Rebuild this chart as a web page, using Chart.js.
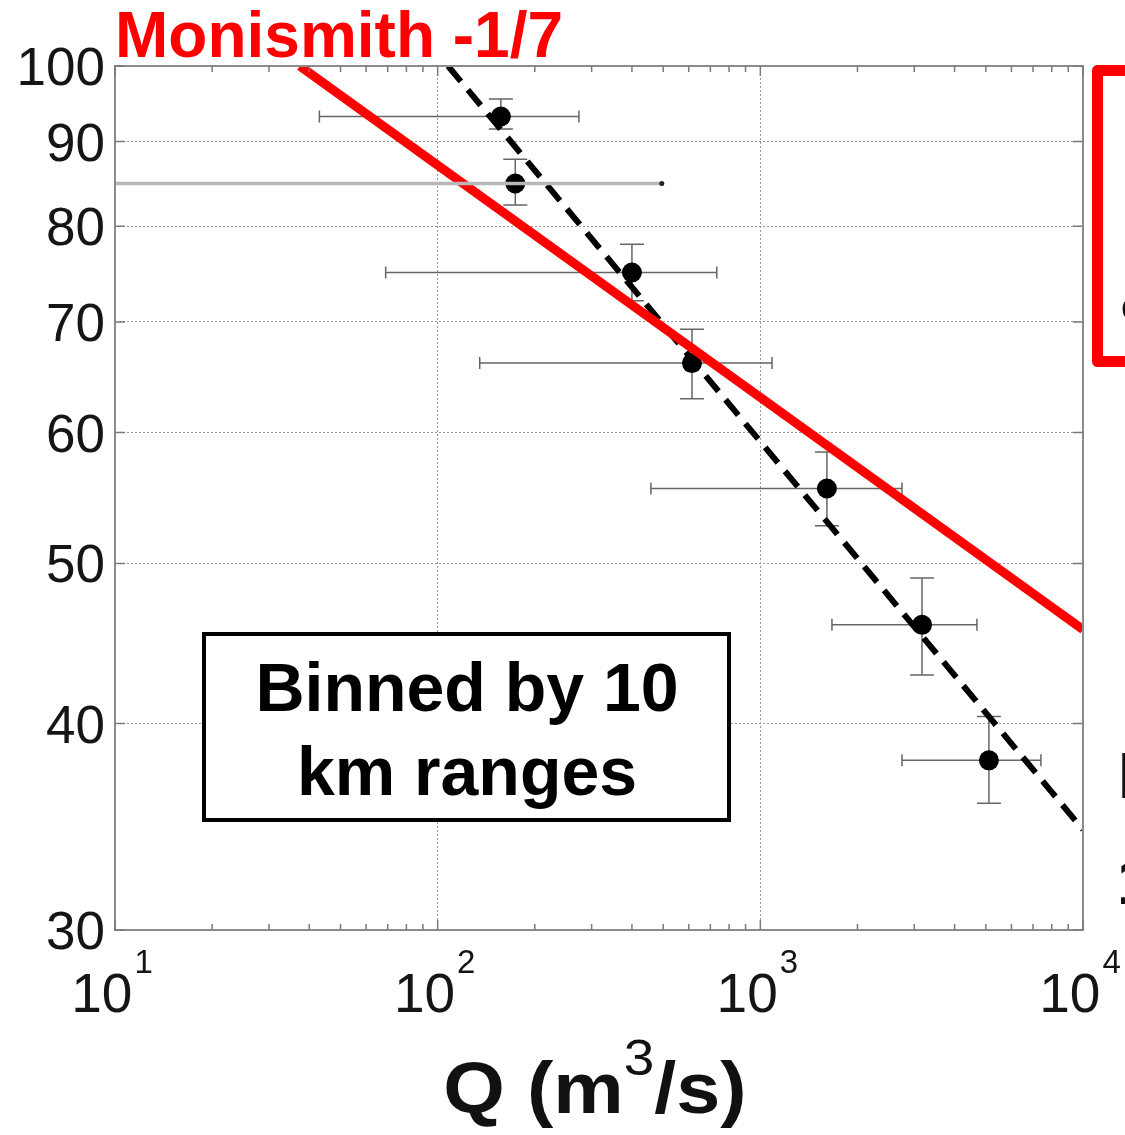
<!DOCTYPE html>
<html><head><meta charset="utf-8">
<script src="https://cdn.jsdelivr.net/npm/chart.js@4.4.1/dist/chart.umd.min.js"></script>
<style>html,body{margin:0;padding:0;background:#fff;overflow:hidden}canvas{display:block}</style>
</head><body>
<canvas id="c" width="1125" height="1135"></canvas>
<script>
// ---- data ----
const binQ  = [157, 174, 400, 614, 1608, 3170, 5110];
const binH  = [93.2, 84.9, 75.0, 66.1, 55.5, 45.9, 38.0];
const binQLow  = [43, 3, 69, 135, 458, 1667, 2748];
const binQHigh = [274, 495, 733, 1087, 2748, 4690, 7405];
const binHLow  = [91.6, 82.4, 72.1, 62.9, 52.7, 42.8, 35.8];
const binHHigh = [95.5, 87.8, 78.0, 69.3, 58.4, 49.0, 40.4];
const monismithQ = [37.4, 10000];
const monismithH = [100, 45.6];
const fitQ = [107.7, 10000];
const fitH = [100, 34.5];
const xTicks = [10, 100, 1000, 10000];
const xTickExp = ['1', '2', '3', '4'];
const yTicks = [30, 40, 50, 60, 70, 80, 90, 100];
const yTickLabels = ['30', '40', '50', '60', '70', '80', '90', '100'];
const titleText = 'Monismith -1/7';
const boxLines = ['Binned by 10', 'km ranges'];
const xTitleParts = ['Q (m', '3', '/s)'];
const fragTexts = ['c', 'E', '1'];

const FONT = '"Liberation Sans", Arial, Helvetica, sans-serif';

const deco = {
  id: 'deco',
  beforeDatasetsDraw(chart) {
    const {ctx, chartArea: a, scales: {x, y}} = chart;
    ctx.save();
    ctx.beginPath(); ctx.rect(a.left, a.top, a.right - a.left, a.bottom - a.top); ctx.clip();
    ctx.strokeStyle = '#666'; ctx.lineWidth = 1.5;
    for (let i = 0; i < binQ.length; i++) {
      const px = x.getPixelForValue(binQ[i]), py = y.getPixelForValue(binH[i]);
      if (binQLow[i] >= x.min) {
        const x1 = x.getPixelForValue(binQLow[i]), x2 = x.getPixelForValue(binQHigh[i]);
        ctx.beginPath();
        ctx.moveTo(x1, py); ctx.lineTo(x2, py);
        ctx.moveTo(x1, py - 6); ctx.lineTo(x1, py + 6);
        ctx.moveTo(x2, py - 6); ctx.lineTo(x2, py + 6);
        ctx.stroke();
      }
      const y1 = y.getPixelForValue(binHLow[i]), y2 = y.getPixelForValue(binHHigh[i]);
      ctx.beginPath();
      ctx.moveTo(px, y1); ctx.lineTo(px, y2);
      ctx.moveTo(px - 12, y1); ctx.lineTo(px + 12, y1);
      ctx.moveTo(px - 12, y2); ctx.lineTo(px + 12, y2);
      ctx.stroke();
    }
    ctx.restore();
  },
  afterDatasetsDraw(chart) {
    const {ctx, chartArea: a, scales: {x, y}} = chart;
    ctx.save();
    ctx.beginPath(); ctx.rect(a.left, a.top, a.right - a.left, a.bottom - a.top); ctx.clip();
    // clipped (off-scale) horizontal error bar drawn on top, lighter and thicker
    for (let i = 0; i < binQ.length; i++) {
      if (binQLow[i] < x.min) {
        const py = y.getPixelForValue(binH[i]);
        const x1 = x.getPixelForValue(binQLow[i]), x2 = x.getPixelForValue(binQHigh[i]);
        ctx.strokeStyle = '#b8b8b8'; ctx.lineWidth = 3.5;
        ctx.beginPath(); ctx.moveTo(x1, py); ctx.lineTo(x2, py); ctx.stroke();
        ctx.fillStyle = '#222';
        ctx.beginPath(); ctx.arc(x2, py, 2.5, 0, Math.PI * 2); ctx.fill();
      }
    }
    ctx.restore();
    // frame
    ctx.save();
    ctx.strokeStyle = '#8c8c8c'; ctx.lineWidth = 2;
    ctx.strokeRect(a.left, a.top, a.right - a.left, a.bottom - a.top);
    // tick marks
    ctx.strokeStyle = '#7a7a7a'; ctx.lineWidth = 1.5;
    ctx.beginPath();
    for (let d = 0; d < xTicks.length - 1; d++) {
      for (let k = 2; k <= 9; k++) {
        const px = x.getPixelForValue(xTicks[d] * k);
        ctx.moveTo(px, a.top); ctx.lineTo(px, a.top + 6);
        ctx.moveTo(px, a.bottom); ctx.lineTo(px, a.bottom - 6);
      }
    }
    xTicks.forEach(v => {
      const px = x.getPixelForValue(v);
      ctx.moveTo(px, a.top); ctx.lineTo(px, a.top + 10);
      ctx.moveTo(px, a.bottom); ctx.lineTo(px, a.bottom - 10);
    });
    yTicks.forEach(v => {
      const py = y.getPixelForValue(v);
      ctx.moveTo(a.left, py); ctx.lineTo(a.left + 10, py);
      ctx.moveTo(a.right, py); ctx.lineTo(a.right - 10, py);
    });
    ctx.stroke();
    ctx.restore();
  },
  afterDraw(chart) {
    const {ctx, scales: {x, y}} = chart;
    ctx.save();
    ctx.fillStyle = '#151515';
    // y tick labels
    ctx.font = '53px ' + FONT; ctx.textAlign = 'right'; ctx.textBaseline = 'alphabetic';
    yTicks.forEach((v, i) => {
      const py = y.getPixelForValue(v);
      ctx.fillText(yTickLabels[i], 105, py + 19);
    });
    // x tick labels 10^n
    ctx.textAlign = 'left';
    xTicks.forEach((v, i) => {
      const px = x.getPixelForValue(v);
      ctx.font = '55px ' + FONT; const wb = ctx.measureText('10').width;
      ctx.font = '33px ' + FONT; const we = ctx.measureText(xTickExp[i]).width;
      const sx = px - (wb + we + 2) / 2 - 3;
      ctx.font = '55px ' + FONT; ctx.fillText('10', sx, 1012);
      ctx.font = '33px ' + FONT; ctx.fillText(xTickExp[i], sx + wb + 2, 973);
    });
    // x axis title
    ctx.save();
    ctx.translate(595, 1113);
    ctx.scale(1.1, 1);
    ctx.font = 'bold 72px ' + FONT; const w1 = ctx.measureText(xTitleParts[0]).width;
    ctx.font = '50px ' + FONT; const w2 = ctx.measureText(xTitleParts[1]).width;
    ctx.font = 'bold 72px ' + FONT; const w3 = ctx.measureText(xTitleParts[2]).width;
    let xx = -(w1 + w2 + w3) / 2;
    ctx.fillStyle = '#111';
    ctx.fillText(xTitleParts[0], xx, 0);
    ctx.font = '50px ' + FONT; ctx.fillText(xTitleParts[1], xx + w1, -38);
    ctx.font = 'bold 72px ' + FONT; ctx.fillText(xTitleParts[2], xx + w1 + w2, 0);
    ctx.restore();
    // red title
    ctx.fillStyle = '#ff0000';
    ctx.font = 'bold 64px ' + FONT;
    ctx.fillText(titleText, 115, 57);
    // annotation box
    ctx.fillStyle = '#fff';
    ctx.fillRect(204, 634, 525, 186);
    ctx.strokeStyle = '#000'; ctx.lineWidth = 4;
    ctx.strokeRect(204, 634, 525, 186);
    ctx.fillStyle = '#000'; ctx.textAlign = 'center';
    ctx.font = 'bold 68px ' + FONT;
    ctx.fillText(boxLines[0], 467, 711);
    ctx.fillText(boxLines[1], 467, 795);
    // cropped neighbour content at the right edge
    ctx.strokeStyle = '#ff0000'; ctx.lineWidth = 11; ctx.lineJoin = 'round';
    ctx.strokeRect(1097.5, 70.5, 200, 291);
    ctx.textAlign = 'left'; ctx.fillStyle = '#111';
    ctx.font = 'bold 40px ' + FONT; ctx.fillText(fragTexts[0], 1121, 320);
    ctx.font = 'bold 64px ' + FONT; ctx.fillText(fragTexts[1], 1118, 798);
    ctx.fillText(fragTexts[2], 1117, 904);
    ctx.restore();
  }
};

new Chart(document.getElementById('c').getContext('2d'), {
  type: 'scatter',
  data: {
    datasets: [
      {
        label: 'Monismith -1/7',
        data: monismithQ.map((q, i) => ({x: q, y: monismithH[i]})),
        showLine: true, borderColor: '#ff0000', borderWidth: 9,
        pointRadius: 0, order: 0
      },
      {
        label: 'fit',
        data: fitQ.map((q, i) => ({x: q, y: fitH[i]})),
        showLine: true, borderColor: '#000', borderWidth: 6, borderDash: [20, 11],
        pointRadius: 0, order: 1
      },
      {
        label: 'bins',
        data: binQ.map((q, i) => ({x: q, y: binH[i]})),
        pointRadius: 10, pointBackgroundColor: '#000', pointBorderColor: '#000',
        pointBorderWidth: 0, order: 2
      }
    ]
  },
  options: {
    responsive: false, animation: false, devicePixelRatio: 1, events: [],
    layout: {padding: {left: 115, right: 42, top: 66, bottom: 205}},
    plugins: {legend: {display: false}, tooltip: {enabled: false}},
    scales: {
      x: {
        type: 'logarithmic', min: 10, max: 10000,
        afterBuildTicks: ax => { ax.ticks = xTicks.map(v => ({value: v})); },
        ticks: {display: false},
        grid: {
          drawTicks: false, lineWidth: 1,
          color: c => (c.tick && (c.tick.value <= 10 || c.tick.value >= 10000)) ? 'rgba(0,0,0,0)' : '#999'
        },
        border: {display: false, dash: [2, 2]}
      },
      y: {
        type: 'logarithmic', min: 30, max: 100,
        afterBuildTicks: ax => { ax.ticks = yTicks.map(v => ({value: v})); },
        ticks: {display: false},
        grid: {
          drawTicks: false, lineWidth: 1,
          color: c => (c.tick && (c.tick.value <= 30 || c.tick.value >= 100)) ? 'rgba(0,0,0,0)' : '#999'
        },
        border: {display: false, dash: [2, 2]}
      }
    }
  },
  plugins: [deco]
});
</script>
</body></html>
